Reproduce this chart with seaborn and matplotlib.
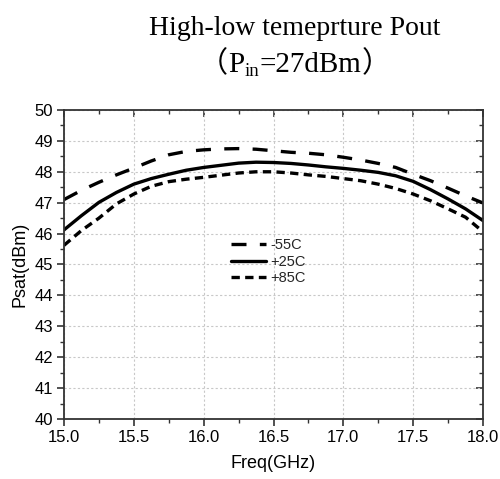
import numpy as np
import pandas as pd
import matplotlib
matplotlib.use("Agg")
import matplotlib.pyplot as plt
import seaborn as sns
from matplotlib.ticker import MultipleLocator, FormatStrFormatter

freq = [15.0, 15.125, 15.25, 15.375, 15.5, 15.625, 15.75, 15.875, 16.0, 16.125, 16.25, 16.375,
        16.5, 16.625, 16.75, 16.875, 17.0, 17.125, 17.25, 17.375, 17.5, 17.625, 17.75, 17.875, 18.0]
p_m55 = [47.10, 47.40, 47.66, 47.90, 48.12, 48.35, 48.55, 48.66, 48.71, 48.74, 48.75, 48.73,
         48.68, 48.63, 48.60, 48.55, 48.47, 48.38, 48.27, 48.14, 47.92, 47.71, 47.47, 47.22, 46.99]
p_p25 = [46.12, 46.58, 47.01, 47.33, 47.60, 47.78, 47.92, 48.05, 48.14, 48.21, 48.28, 48.31,
         48.30, 48.27, 48.22, 48.16, 48.11, 48.05, 47.98, 47.87, 47.69, 47.42, 47.12, 46.80, 46.42]
p_p85 = [45.62, 46.10, 46.50, 46.96, 47.28, 47.53, 47.68, 47.76, 47.82, 47.89, 47.96, 48.00,
         48.00, 47.96, 47.90, 47.85, 47.78, 47.71, 47.60, 47.46, 47.28, 47.06, 46.80, 46.53, 46.06]
labels = ["-55C", "+25C", "+85C"]

df = pd.concat([
    pd.DataFrame({"Freq": freq, "Psat": p, "Temp": lab})
    for p, lab in zip([p_m55, p_p25, p_p85], labels)
])

sns.set_theme(style="white")
plt.rcParams["font.family"] = ["Liberation Sans", "DejaVu Sans"]

fig = plt.figure(figsize=(5.0, 4.79), dpi=100)
ax = fig.add_axes([0.128, 0.1253, 0.838, 0.6451])

LW = 2.4
sns.lineplot(data=df, x="Freq", y="Psat", style="Temp", ax=ax, color="black",
             linewidth=LW, dashes={"-55C": (4.5, 4.0), "+25C": "", "+85C": (2.5, 1.6)},
             legend=True)

ax.set_xlim(15.0, 18.0)
ax.set_ylim(40, 50)
ax.xaxis.set_major_locator(MultipleLocator(0.5))
ax.xaxis.set_minor_locator(MultipleLocator(0.25))
ax.yaxis.set_major_locator(MultipleLocator(1))
ax.yaxis.set_minor_locator(MultipleLocator(0.5))
ax.xaxis.set_major_formatter(FormatStrFormatter("%.1f"))
ax.grid(True, which="major", color="#c8c8c8", linestyle=(0, (2, 2)), linewidth=0.8)
ax.tick_params(which="major", direction="out", length=5, width=1.2, colors="#333333",
               labelsize=12, labelcolor="black", bottom=True, left=True, pad=3)
ax.tick_params(which="minor", direction="out", length=3, width=1.0, colors="#333333",
               bottom=True, left=True)
for s in ax.spines.values():
    s.set_color("#333333")
    s.set_linewidth(1.3)

secx = ax.secondary_xaxis("top")
secx.xaxis.set_major_locator(MultipleLocator(0.5))
secx.xaxis.set_minor_locator(MultipleLocator(0.25))
secx.tick_params(which="major", direction="in", length=5, width=1.2, colors="#333333", labeltop=False)
secx.tick_params(which="minor", direction="in", length=3, width=1.0, colors="#333333")
secx.spines["top"].set_visible(False)
secy = ax.secondary_yaxis("right")
secy.yaxis.set_major_locator(MultipleLocator(1))
secy.yaxis.set_minor_locator(MultipleLocator(0.5))
secy.tick_params(which="major", direction="in", length=5, width=1.2, colors="#333333", labelright=False)
secy.tick_params(which="minor", direction="in", length=3, width=1.0, colors="#333333")
secy.spines["right"].set_visible(False)

ax.set_xlabel("Freq(GHz)", fontsize=13, color="black", labelpad=7)
ax.set_ylabel("Psat(dBm)", fontsize=13, color="black", labelpad=4)

leg = ax.legend(loc="upper left", bbox_to_anchor=(0.447, 0.518), bbox_transform=fig.transFigure,
                frameon=False, fontsize=10.5, handlelength=2.4, handletextpad=0.3,
                labelspacing=0.18, borderpad=0, title=None)
for line in leg.get_lines():
    line.set_linewidth(LW)

# Title
W, H = 500.0, 479.0
fig.text(295 / W, 1 - 35 / H, "High-low temeprture Pout", ha="center", va="baseline",
         fontsize=20, family=["Liberation Serif"], color="black")

renderer = fig.canvas.get_renderer()
# (text, size, family, baseline drop px, gap after px)
pieces = [("（", 21, ["Noto Sans CJK SC"], 0, 0),
          ("P", 21, ["Liberation Serif"], 0, 0),
          ("in", 13.5, ["Liberation Serif"], 3, 0),
          ("=27dBm", 21, ["Liberation Serif"], 0, 1),
          ("）", 21, ["Noto Sans CJK SC"], 0, 0)]
base = 72.5
x = 0.0
objs = []
for txt, size, fam, drop, gap in pieces:
    t = fig.text(x / W, 1 - (base + drop) / H, txt, ha="left", va="baseline",
                 fontsize=size, family=fam, color="black")
    bb = t.get_window_extent(renderer)
    objs.append((t, x, drop))
    x = bb.x1 + gap
total = x
start = 295.0 - total / 2.0
for t, x0, drop in objs:
    t.set_position(((start + x0) / W, 1 - (base + drop) / H))

fig.savefig("out.png", dpi=100)
